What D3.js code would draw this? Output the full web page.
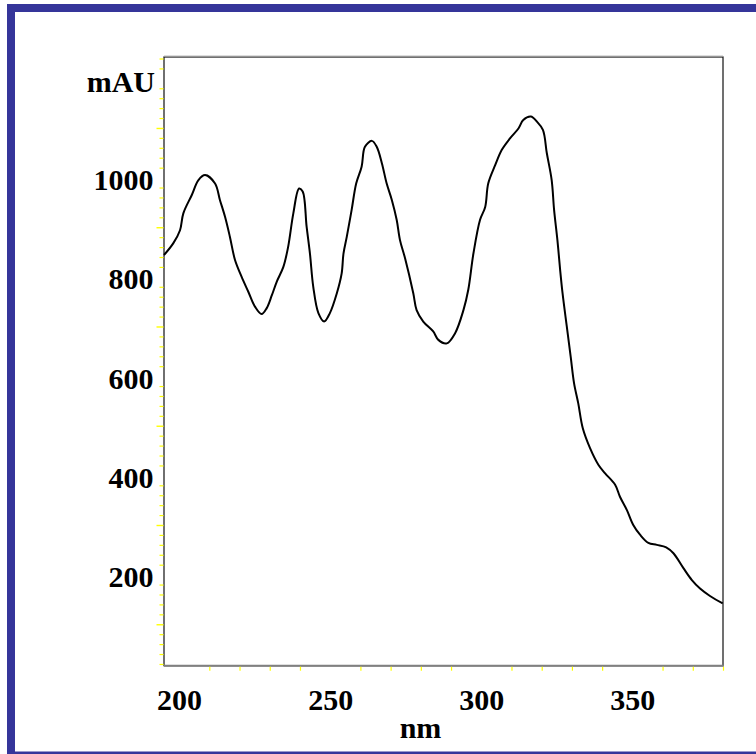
<!DOCTYPE html>
<html>
<head>
<meta charset="utf-8">
<script src="https://cdn.jsdelivr.net/npm/d3@7"></script>
<style>
  html, body { margin: 0; padding: 0; background: #ffffff; }
  svg { display: block; }
</style>
</head>
<body>
<script>
// ---- Data ----
const wavelength = [195.0, 198.1, 200.3, 201.4, 204.2, 206.4, 208.6, 211.9, 213.5, 215.2,
  216.8, 218.5, 220.7, 222.9, 225.1, 227.3, 229.0, 230.7, 232.3, 234.5,
  236.1, 237.8, 239.7, 240.9, 242.2, 243.3, 244.4, 246.1, 248.0, 249.9,
  252.2, 253.8, 254.4, 255.5, 257.1, 258.6, 260.4, 261.5, 263.8, 265.4,
  267.1, 268.7, 270.4, 272.0, 273.1, 274.8, 277.5, 278.6, 280.8, 284.1,
  285.8, 288.6, 291.3, 294.1, 295.7, 297.4, 299.6, 301.3, 302.3, 304.6,
  306.8, 309.5, 312.3, 313.9, 316.4, 318.4, 320.4, 321.7, 323.3, 324.1,
  325.2, 326.1, 326.9, 328.3, 329.6, 330.7, 332.1, 333.6, 336.0, 338.8,
  341.0, 344.3, 345.9, 348.2, 350.3, 352.6, 355.3, 358.1, 361.2, 363.6,
  366.9, 369.7, 372.4, 375.7, 379.9];
const absorbance = [844, 868, 894, 928, 965, 995, 1005, 988, 955, 921,
  881, 834, 800, 770, 740, 725, 737, 763, 790, 820,
  861, 928, 978, 972, 901, 847, 780, 727, 710, 727,
  767, 807, 847, 881, 935, 988, 1022, 1062, 1074, 1062,
  1029, 988, 955, 915, 874, 837, 767, 733, 710, 690,
  673, 666, 686, 733, 774, 847, 915, 941, 988, 1025,
  1056, 1079, 1099, 1116, 1123, 1113, 1096, 1049, 995, 935,
  874, 814, 767, 700, 639, 586, 545, 495, 455, 421,
  404, 381, 357, 330, 300, 280, 264, 260, 255, 243,
  213, 189, 172, 157, 142];

const xTickLabels = [200, 250, 300, 350];
const yTickLabels = [200, 400, 600, 800, 1000];
const xMinorTicks = d3.range(210, 381, 10).filter(v => v % 50 !== 0);
const yMinorTicks = d3.range(20, 1241, 20).filter(v => v % 100 !== 0);
const yMidTicks = [100, 300, 500, 700, 900, 1100];
const xDomain = [195, 380];
const yDomain = [16.5, 1243];
const yUnit = "mAU";
const xUnit = "nm";

// ---- Layout ----
const W = 756, H = 754;
const plot = { left: 164, right: 723, top: 57, bottom: 665.7 };
const blue = "#35359a";
const yellow = "#ffff00";
const font = "'Liberation Serif', 'Times New Roman', serif";

const svg = d3.select("body").append("svg")
  .attr("width", W).attr("height", H);

svg.append("rect").attr("width", W).attr("height", H).attr("fill", "#fff");

// blue border
svg.append("rect").attr("x", 7).attr("y", 4).attr("width", W - 7).attr("height", 8).attr("fill", blue);
svg.append("rect").attr("x", 7).attr("y", 4).attr("width", 8).attr("height", H - 4).attr("fill", blue);
svg.append("rect").attr("x", 7).attr("y", 751.5).attr("width", W - 7).attr("height", 2.5).attr("fill", blue);

const x = d3.scaleLinear().domain(xDomain).range([plot.left, plot.right]);
const y = d3.scaleLinear().domain(yDomain).range([plot.bottom, plot.top]);

// frame
svg.append("rect")
  .attr("x", plot.left).attr("y", plot.top)
  .attr("width", plot.right - plot.left).attr("height", plot.bottom - plot.top)
  .attr("fill", "none").attr("stroke", "#111").attr("stroke-width", 1.2);
svg.append("line")
  .attr("x1", plot.left).attr("x2", plot.right)
  .attr("y1", plot.top - 1).attr("y2", plot.top - 1)
  .attr("stroke", "#bbb").attr("stroke-width", 1);
svg.append("line")
  .attr("x1", plot.left).attr("x2", plot.right + 1)
  .attr("y1", plot.bottom).attr("y2", plot.bottom)
  .attr("stroke", "#808080").attr("stroke-width", 2);

// minor ticks (yellow)
const xMinor = svg.append("g").attr("transform", `translate(0,${plot.bottom + 1})`)
  .call(d3.axisBottom(x).tickValues(xMinorTicks).tickSize(4).tickFormat(""));
xMinor.select(".domain").remove();
xMinor.selectAll(".tick line").attr("stroke", yellow).attr("stroke-width", 1.2);

const yMinor = svg.append("g").attr("transform", `translate(${plot.left - 0.5},0)`)
  .call(d3.axisLeft(y).tickValues(yMinorTicks).tickSize(4).tickFormat(""));
yMinor.select(".domain").remove();
yMinor.selectAll(".tick line").attr("stroke", yellow).attr("stroke-width", 1.2);

const yMid = svg.append("g").attr("transform", `translate(${plot.left - 0.5},0)`)
  .call(d3.axisLeft(y).tickValues(yMidTicks).tickSize(7).tickFormat(""));
yMid.select(".domain").remove();
yMid.selectAll(".tick line").attr("stroke", yellow).attr("stroke-width", 1.4);

// labelled axes
const xAxis = svg.append("g").attr("transform", `translate(0,${plot.bottom})`)
  .call(d3.axisBottom(x).tickValues(xTickLabels).tickSize(0).tickFormat(d3.format("d")));
xAxis.select(".domain").remove();
xAxis.selectAll(".tick text")
  .attr("y", 44.3).attr("dy", 0)
  .attr("font-family", font).attr("font-weight", "bold").attr("font-size", 30)
  .attr("fill", "#000");

const yAxis = svg.append("g").attr("transform", `translate(${plot.left},0)`)
  .call(d3.axisLeft(y).tickValues(yTickLabels).tickSize(0).tickPadding(10.5).tickFormat(d3.format("d")));
yAxis.select(".domain").remove();
yAxis.selectAll(".tick text")
  .attr("dy", "0.4em")
  .attr("font-family", font).attr("font-weight", "bold").attr("font-size", 30)
  .attr("fill", "#000");

// unit labels
svg.append("text").attr("x", 155).attr("y", 91.7).attr("text-anchor", "end")
  .attr("font-family", font).attr("font-weight", "bold").attr("font-size", 30)
  .text(yUnit);
svg.append("text").attr("x", 420.5).attr("y", 738).attr("text-anchor", "middle")
  .attr("font-family", font).attr("font-weight", "bold").attr("font-size", 30)
  .text(xUnit);

// spectrum
const pts = wavelength.map((w, i) => [w, absorbance[i]]);
const line = d3.line().x(d => x(d[0])).y(d => y(d[1])).curve(d3.curveCatmullRom.alpha(0.5));
svg.append("path").datum(pts)
  .attr("d", line)
  .attr("fill", "none").attr("stroke", "#000").attr("stroke-width", 2)
  .attr("stroke-linejoin", "round");
</script>
</body>
</html>
